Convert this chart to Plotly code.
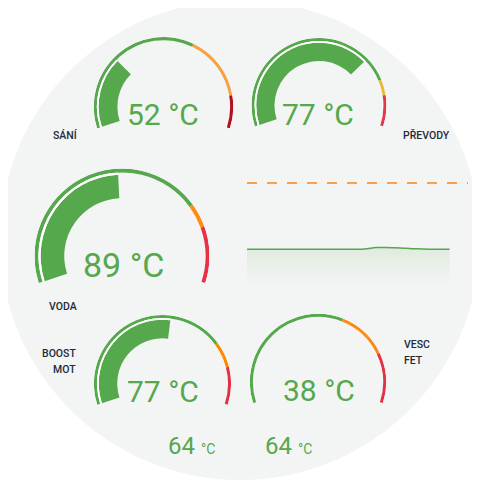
import plotly.graph_objects as go

# ---------------- data ----------------
gauge_names = ["SÁNÍ", "PŘEVODY", "VODA", "BOOST MOT", "VESC FET"]
gauge_values = [52, 77, 89, 77, 38]
gauge_min = [20, 20, 50, 20, 40]
gauge_max = [130, 100, 130, 127, 120]
gauge_warn = [88, 85, 110, 100, 88]
gauge_crit = [116, 90, 116, 111, 104]

history_hours = [0, 1, 2, 3, 4, 5, 6, 7, 8, 9, 10, 11, 12, 13, 14, 15, 16, 17, 18, 19, 20, 21, 22]
history_temp = [64.0, 64.0, 64.0, 64.0, 64.0, 64.0, 64.0, 64.0, 64.0, 64.0, 64.0, 64.0, 64.0,
                64.2, 64.55, 64.6, 64.5, 64.35, 64.2, 64.1, 64.0, 64.0, 64.0]
history_limit = 85
bottom_values = [64, 64]

# ---------------- styles / layout ----------------
W = H = 480
OFF = 8  # page body margin
GREEN = "#55a84b"
BG = "#f3f4f4"
LABEL = "#1d2b3a"
FONT = "Roboto"
warn_colors = ["#f9a03f", "#e9b937", "#ff8b12", "#ff8800", "#ff8a12"]
crit_colors = ["#b20f20", "#e23847", "#e63146", "#e52e47", "#e33148"]
# gauge geometry in screen pixels: centre x, centre y (from top), radius
geom = [(163.5, 106.8, 69.8), (319, 105.5, 67.5), (122, 256, 87.5),
        (162.5, 383.6, 68.6), (318, 382, 68.2)]
value_font = [30, 30, 34, 30, 30]
SPAN = 216.0
ROT = 180 + (SPAN - 180) / 2


def px(x):
    return (x - OFF) / W


def py(y):
    return 1 - (y - OFF) / H


fig = go.Figure()


def ang(i, v):
    f = (v - gauge_min[i]) / (gauge_max[i] - gauge_min[i])
    return max(0.0, min(1.0, f)) * SPAN


layout_polars = {}
for i in range(len(gauge_names)):
    pid = "polar" if i == 0 else f"polar{i + 1}"
    cx, cy, r = geom[i]
    layout_polars[pid] = dict(
        domain=dict(x=[px(cx - r), px(cx + r)], y=[py(cy + r), py(cy - r)]),
        bgcolor="rgba(0,0,0,0)",
        hole=0,
        angularaxis=dict(visible=False, direction="clockwise", rotation=ROT, thetaunit="degrees"),
        radialaxis=dict(visible=False, range=[0, 1]),
    )
    a0 = 0.0
    a1 = ang(i, gauge_warn[i])
    a2 = ang(i, gauge_crit[i])
    a3 = SPAN
    fig.add_trace(go.Barpolar(
        subplot=pid,
        theta=[(a0 + a1) / 2, (a1 + a2) / 2, (a2 + a3) / 2],
        width=[a1 - a0, a2 - a1, a3 - a2],
        base=[0.955, 0.955, 0.955],
        r=[0.045, 0.045, 0.045],
        marker=dict(color=[GREEN, warn_colors[i], crit_colors[i]], line=dict(width=0)),
        hoverinfo="skip", showlegend=False,
    ))
    av = ang(i, gauge_values[i])
    if av > 0:
        fig.add_trace(go.Barpolar(
            subplot=pid,
            theta=[av / 2, av / 2],
            width=[av, av],
            base=[0.66, 0.93],
            r=[0.27, 0.025],
            marker=dict(color=[GREEN, "#ffffff"], line=dict(width=0)),
            hoverinfo="skip", showlegend=False,
        ))

# history chart
fig.add_trace(go.Scatter(
    x=history_hours, y=history_temp, mode="lines",
    line=dict(color=GREEN, width=1.5, shape="spline"),
    fill="tozeroy",
    fillgradient=dict(type="vertical",
                      colorscale=[[0, "rgba(85,168,75,0)"], [1, "rgba(85,168,75,0.12)"]],
                      start=52.5, stop=64.6),
    hoverinfo="skip", showlegend=False,
))
fig.add_trace(go.Scatter(
    x=[0, 24], y=[history_limit, history_limit], mode="lines",
    line=dict(color="#f7a04f", width=2, dash="10px,10px"),
    hoverinfo="skip", showlegend=False,
))

y_lo, y_hi = 45, 90
line_px, limit_px = 249.3, 183.0
pxu = (line_px - limit_px) / (history_limit - history_temp[0])
y_top_px = limit_px - (y_hi - history_limit) * pxu
y_bot_px = line_px + (history_temp[0] - y_lo) * pxu

annotations = []
val_pos = [(162.5, 112.5), (318.3, 113.3), (123.3, 263.7), (162.5, 390.3), (318.5, 388.8)]
for i in range(len(gauge_names)):
    x, y = val_pos[i]
    annotations.append(dict(
        x=px(x), y=py(y + 1.5), xref="paper", yref="paper",
        text=f"{gauge_values[i]} °C", showarrow=False, xanchor="center", yanchor="middle",
        font=dict(family=FONT, size=value_font[i], color=GREEN),
    ))

label_items = [("SÁNÍ", 65.3, 135.5, "center"), ("PŘEVODY", 426.3, 135.5, "center"),
               ("VODA", 63, 306, "center"),
               ("BOOST", 76.7, 353, "right"), ("MOT", 76.7, 368.8, "right"),
               ("VESC", 403.3, 343.8, "left"), ("FET", 403.3, 360, "left")]
for t, x, y, anc in label_items:
    annotations.append(dict(
        x=px(x), y=py(y + 0.5), xref="paper", yref="paper", text=t, showarrow=False,
        xanchor=anc, yanchor="middle", font=dict(family=FONT, size=10.5, color=LABEL, weight=500),
        xshift=(1 if anc == "right" else (-1 if anc == "left" else 0)),
    ))

for v, x in zip(bottom_values, [166.0, 262.8]):
    annotations.append(dict(
        x=px(x), y=py(445.5), xref="paper", yref="paper",
        text=f"{v} <span style='font-size:14px'>°C</span>", showarrow=False,
        xanchor="left", yanchor="middle", font=dict(family=FONT, size=24, color=GREEN),
    ))

fig.update_layout(
    width=W, height=H, margin=dict(l=0, r=0, t=0, b=0),
    paper_bgcolor="#ffffff", plot_bgcolor="rgba(0,0,0,0)",
    showlegend=False,
    xaxis=dict(domain=[px(247), px(468)], range=[0, 24], visible=False, fixedrange=True),
    yaxis=dict(domain=[py(y_bot_px), py(y_top_px)], range=[y_lo, y_hi], visible=False, fixedrange=True),
    shapes=[dict(type="circle", xref="paper", yref="paper",
                 x0=px(0), y0=py(480), x1=px(480), y1=py(0),
                 fillcolor=BG, line=dict(width=0), layer="below")],
    annotations=annotations,
    **layout_polars,
)

fig.write_html("out.html")
